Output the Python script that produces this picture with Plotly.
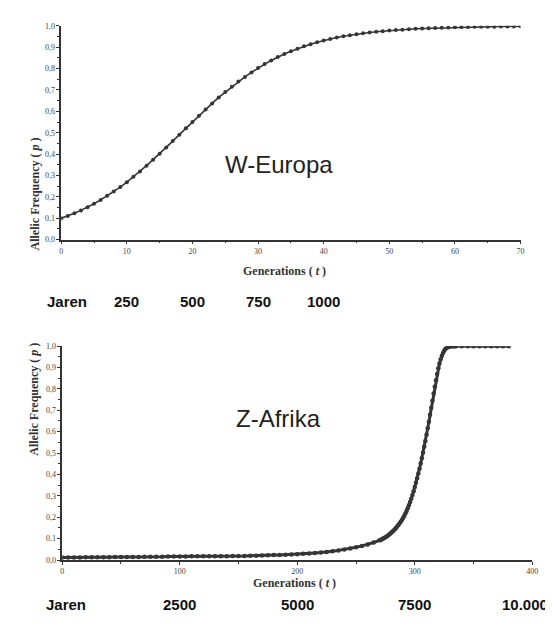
import plotly.graph_objects as go

# ---------------- data ----------------
# W-Europa: allele frequency per generation (0..70)
gen_top = list(range(0, 71))
p_top = [0.100, 0.111, 0.124, 0.137, 0.152, 0.168, 0.186, 0.205, 0.225, 0.246,
         0.269, 0.294, 0.319, 0.346, 0.374, 0.402, 0.431, 0.461, 0.491, 0.521,
         0.550, 0.580, 0.609, 0.637, 0.665, 0.690, 0.715, 0.739, 0.761, 0.782,
         0.803, 0.821, 0.838, 0.854, 0.868, 0.881, 0.893, 0.904, 0.914, 0.923,
         0.931, 0.938, 0.945, 0.951, 0.956, 0.961, 0.965, 0.969, 0.972, 0.975,
         0.978, 0.980, 0.982, 0.984, 0.986, 0.987, 0.988, 0.990, 0.991, 0.992,
         0.993, 0.994, 0.994, 0.995, 0.995, 0.996, 0.996, 0.997, 0.997, 0.997,
         0.998]

# Z-Afrika: allele frequency (generations 0..380)
gen_bot = (list(range(0, 271, 5)) + list(range(271, 336)) + list(range(340, 381, 5)))
p_bot = [0.012, 0.012, 0.012, 0.012, 0.013, 0.013, 0.013, 0.013, 0.013, 0.014,
         0.014, 0.014, 0.014, 0.014, 0.015, 0.015, 0.015, 0.015, 0.016, 0.016,
         0.016, 0.016, 0.017, 0.017, 0.017, 0.017, 0.018, 0.018, 0.018, 0.019,
         0.019, 0.019, 0.020, 0.020, 0.021, 0.022, 0.023, 0.024, 0.025, 0.026,
         0.027, 0.029, 0.031, 0.033, 0.035, 0.037, 0.041, 0.045, 0.049, 0.054,
         0.060, 0.066, 0.073, 0.082, 0.092,
         0.094, 0.097, 0.100, 0.103, 0.106, 0.110, 0.114, 0.118, 0.123, 0.128,
         0.133, 0.138, 0.144, 0.150, 0.157, 0.164, 0.171, 0.179, 0.187, 0.196,
         0.206, 0.217, 0.229, 0.242, 0.256, 0.271, 0.287, 0.304, 0.322, 0.341,
         0.361, 0.382, 0.404, 0.427, 0.451, 0.476, 0.502, 0.529, 0.557, 0.586,
         0.616, 0.647, 0.679, 0.712, 0.745, 0.778, 0.810, 0.841, 0.870, 0.896,
         0.919, 0.939, 0.955, 0.968, 0.978, 0.986, 0.991, 0.995, 0.997, 0.998,
         0.999, 0.999, 1.000, 1.000, 1.000,
         1.000, 1.000, 1.000, 1.000, 1.000, 1.000, 1.000, 1.000, 1.000]

years_per_generation = 25
jaren_top = [250, 500, 750, 1000]
jaren_top_labels = ["250", "500", "750", "1000"]
jaren_bot = [2500, 5000, 7500]
jaren_bot_labels = ["2500", "5000", "7500"]
jaren_last_label = "10.000"
region_labels = ["W-Europa", "Z-Afrika"]

# ---------------- layout helpers ----------------
W, H = 553, 626
def fx(p):
    return p / W
def fy(p):
    return 1 - p / H

LINE = "#353535"
TICKFONT = dict(family="Liberation Serif", size=8, color="#444")

fig = go.Figure()
fig.add_trace(go.Scatter(x=gen_top, y=p_top, mode="lines+markers",
                         line=dict(color=LINE, width=1.6),
                         marker=dict(color=LINE, size=4),
                         xaxis="x", yaxis="y", showlegend=False))
fig.add_trace(go.Scatter(x=gen_bot, y=p_bot, mode="lines+markers",
                         line=dict(color=LINE, width=3),
                         marker=dict(color=LINE, size=4.5),
                         xaxis="x2", yaxis="y2", showlegend=False))

axis_common = dict(showgrid=False, zeroline=False, showline=True,
                   linecolor="#333", linewidth=1.5, ticks="outside",
                   ticklen=3, tickwidth=1, tickcolor="#333",
                   tickfont=TICKFONT)

fig.update_layout(
    width=W, height=H, autosize=False,
    margin=dict(l=0, r=0, t=0, b=0),
    paper_bgcolor="white", plot_bgcolor="white",
    separators=",.",
    xaxis=dict(domain=[fx(52), fx(518)], range=[0, 70], dtick=10,
               minor=dict(dtick=5, ticks="outside", ticklen=2, tickcolor="#333"),
               anchor="y", **axis_common),
    yaxis=dict(domain=[fy(231), fy(14)], range=[0, 1], dtick=0.1,
               tickformat=".1f",
               minor=dict(dtick=0.05, ticks="outside", ticklen=2, tickcolor="#333"),
               anchor="x", **axis_common),
    xaxis2=dict(domain=[fx(53), fx(530)], range=[0, 400], dtick=100,
                minor=dict(dtick=50, ticks="outside", ticklen=2, tickcolor="#333"),
                anchor="y2", **axis_common),
    yaxis2=dict(domain=[fy(556), fy(339)], range=[0, 1], dtick=0.1,
                tickformat=".1f",
                minor=dict(dtick=0.05, ticks="outside", ticklen=2, tickcolor="#333"),
                anchor="x2", **axis_common),
)

ann = []
TITLEFONT = dict(family="Liberation Serif", size=12, color="#333")
# axis titles
ann.append(dict(text="<b>Allelic Frequency ( <i>p</i> )</b>", textangle=-90,
                x=fx(16), y=fy(125), xref="paper", yref="paper",
                showarrow=False, font=TITLEFONT))
ann.append(dict(text="<b>Allelic Frequency ( <i>p</i> )</b>", textangle=-90,
                x=fx(15), y=fy(452), xref="paper", yref="paper",
                showarrow=False, font=TITLEFONT))
ann.append(dict(text="<b>Generations ( <i>t</i> )</b>",
                x=fx(279), y=fy(263), xref="paper", yref="paper",
                showarrow=False, font=TITLEFONT))
ann.append(dict(text="<b>Generations ( <i>t</i> )</b>",
                x=fx(289), y=fy(588), xref="paper", yref="paper",
                showarrow=False, font=TITLEFONT))
# region labels
REGFONT = dict(family="Liberation Sans", size=24, color="#222")
ann.append(dict(text=region_labels[0], x=fx(273), y=fy(139), xref="paper",
                yref="paper", showarrow=False, font=REGFONT))
ann.append(dict(text=region_labels[1], x=fx(272), y=fy(428), xref="paper",
                yref="paper", showarrow=False, font=REGFONT))
# Jaren rows
JFONT = dict(family="Liberation Sans", size=15, color="#111")
ann.append(dict(text="<b>Jaren</b>", x=fx(36), y=fy(294), xref="paper",
                yref="paper", showarrow=False, font=JFONT))
ann.append(dict(text="<b>Jaren</b>", x=fx(34), y=fy(612), xref="paper",
                yref="paper", showarrow=False, font=JFONT))
for yr, lab in zip(jaren_top, jaren_top_labels):
    ann.append(dict(text=f"<b>{lab}</b>", x=yr / years_per_generation, xref="x",
                    y=fy(294), yref="paper", showarrow=False, font=JFONT))
for yr, lab in zip(jaren_bot, jaren_bot_labels):
    ann.append(dict(text=f"<b>{lab}</b>", x=yr / years_per_generation, xref="x2",
                    y=fy(612), yref="paper", showarrow=False, font=JFONT))
ann.append(dict(text=f"<b>{jaren_last_label}</b>", x=fx(548), xanchor="right",
                xref="paper", y=fy(612), yref="paper", showarrow=False, font=JFONT))

fig.update_layout(annotations=ann)
fig.write_html("out.html")
